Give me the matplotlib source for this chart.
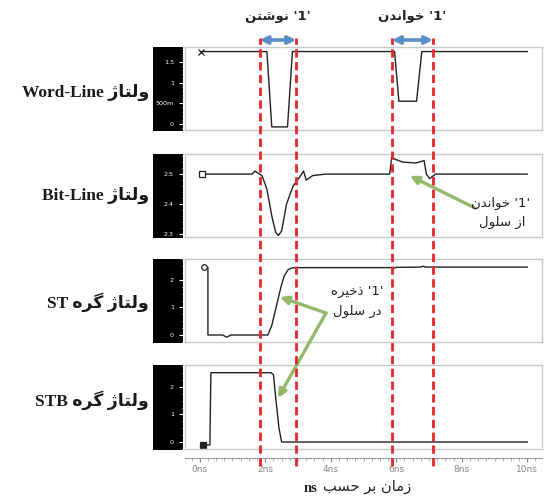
import matplotlib
matplotlib.use("Agg")
import matplotlib.pyplot as plt
from matplotlib.ticker import MultipleLocator

W, H = 546, 499

# ---- waveform data (time in ns, voltage in V) ----
wl_t = [0.05, 2.05, 2.2, 2.68, 2.83, 5.95, 6.08, 6.62, 6.78, 10.0]
wl_v = [1.75, 1.75, -0.07, -0.07, 1.75, 1.75, 0.55, 0.55, 1.75, 1.75]

bl_t = [0.08, 1.6, 1.68, 1.78, 1.9, 2.05, 2.2, 2.32, 2.4, 2.5, 2.65, 2.85, 3.05,
        3.17, 3.25, 3.45, 3.85, 5.8, 5.86, 5.95, 6.2, 6.6, 6.85, 6.92, 7.02,
        7.2, 10.0]
bl_v = [2.5, 2.5, 2.51, 2.503, 2.495, 2.45, 2.36, 2.305, 2.295, 2.31, 2.4, 2.46,
        2.49, 2.51, 2.48, 2.495, 2.5, 2.5, 2.558, 2.55, 2.54, 2.537, 2.545,
        2.5, 2.485, 2.5, 2.5]

st_t = [0.13, 0.25, 0.25, 0.7, 0.82, 0.95, 2.08, 2.2, 2.35, 2.48, 2.58, 2.7,
        2.82, 3.0, 5.85, 5.92, 6.0, 6.75, 6.82, 6.9, 10.0]
st_v = [2.46, 2.46, 0.0, 0.0, -0.08, 0.0, 0.0, 0.35, 1.1, 1.75, 2.15, 2.38,
        2.44, 2.45, 2.45, 2.43, 2.46, 2.47, 2.5, 2.47, 2.47]

stb_t = [0.1, 0.31, 0.34, 2.17, 2.25, 2.32, 2.42, 2.5, 10.0]
stb_v = [-0.11, -0.11, 2.52, 2.52, 2.45, 1.6, 0.5, 0.0, 0.0]

wl_ticks = [0, 0.5, 1, 1.5]
wl_labels = ["0", "500m", "1", "1.5"]
bl_ticks = [2.3, 2.4, 2.5]
bl_labels = ["2.3", "2.4", "2.5"]
node_ticks = [0, 1, 2]
node_labels = ["0", "1", "2"]

time_ticks = [0, 2, 4, 6, 8, 10]
time_labels = ["0ns", "2ns", "4ns", "6ns", "8ns", "10ns"]
cursor_t = [1.83, 2.94, 5.87, 7.12]

# ---- minimal Persian shaping (presentation forms, visual order) ----
FORMS = {
    "ا": "\uFE8D\uFE8E", "د": "\uFEA9\uFEAA", "ذ": "\uFEAB\uFEAC",
    "ر": "\uFEAD\uFEAE", "ز": "\uFEAF\uFEB0", "ژ": "\uFB8A\uFB8B",
    "و": "\uFEED\uFEEE",
    "ب": "\uFE8F\uFE90\uFE91\uFE92", "ت": "\uFE95\uFE96\uFE97\uFE98",
    "ح": "\uFEA1\uFEA2\uFEA3\uFEA4", "خ": "\uFEA5\uFEA6\uFEA7\uFEA8",
    "س": "\uFEB1\uFEB2\uFEB3\uFEB4", "ش": "\uFEB5\uFEB6\uFEB7\uFEB8",
    "ل": "\uFEDD\uFEDE\uFEDF\uFEE0", "م": "\uFEE1\uFEE2\uFEE3\uFEE4",
    "ن": "\uFEE5\uFEE6\uFEE7\uFEE8", "ه": "\uFEE9\uFEEA\uFEEB\uFEEC",
    "ی": "\uFBFC\uFBFD\uFBFE\uFBFF", "گ": "\uFB92\uFB93\uFB94\uFB95",
}


def fa(s):
    out = []
    for i, c in enumerate(s):
        f = FORMS.get(c)
        if f is None:
            out.append(c)
            continue
        prev = s[i - 1] if i > 0 else ""
        nxt = s[i + 1] if i + 1 < len(s) else ""
        jp = prev in FORMS and len(FORMS[prev]) == 4
        jn = len(f) == 4 and nxt in FORMS
        if jp and jn:
            out.append(f[3])
        elif jp:
            out.append(f[1])
        elif jn:
            out.append(f[2])
        else:
            out.append(f[0])
    return "".join(reversed(out))


plt.rcParams["font.family"] = ["DejaVu Sans"]
fig = plt.figure(figsize=(W / 100, H / 100), dpi=100)
fig.patch.set_facecolor("white")

X0, X1 = 185, 542
XLIM = (-0.45, 10.45)


def px_axes(x0, y0, x1, y1, **kw):
    return fig.add_axes([x0 / W, 1 - y1 / H, (x1 - x0) / W, (y1 - y0) / H], **kw)


panels = [
    (47, 130, wl_t, wl_v, (-0.145, 1.86), wl_ticks, wl_labels, 0.1, "x", "none",
     "Word-Line " + fa("ولتاژ"), 92),
    (154, 237, bl_t, bl_v, (2.29, 2.567), bl_ticks, bl_labels, 0.02, "s", "white",
     "Bit-Line " + fa("ولتاژ"), 195),
    (259, 342, st_t, st_v, (-0.255, 2.764), node_ticks, node_labels, 0.25, "o", "white",
     "ST " + fa("ولتاژ گره"), 302),
    (365, 449, stb_t, stb_v, (-0.255, 2.8), node_ticks, node_labels, 0.25, "s", "#222222",
     "STB " + fa("ولتاژ گره"), 400),
]

axes = []
for (y0, y1, t, v, ylim, ticks, labels, minor, mk, mfc, label, ly) in panels:
    strip = px_axes(153, y0, 183, y1 + 1)
    strip.set_facecolor("black")
    strip.set_xticks([])
    strip.set_yticks([])
    for s in strip.spines.values():
        s.set_visible(False)

    ax = px_axes(X0, y0, X1, y1)
    ax.plot(t, v, color="#222222", lw=1.0, marker=mk, markevery=[0],
            markersize=4, markerfacecolor=mfc, markeredgecolor="#222222",
            markeredgewidth=0.9)
    ax.set_xlim(*XLIM)
    ax.set_ylim(*ylim)
    ax.set_xticks([])
    ax.set_yticks(ticks, labels)
    ax.yaxis.set_minor_locator(MultipleLocator(minor))
    ax.tick_params(axis="y", which="major", colors="white", labelsize=4.6,
                   length=4, width=0.8, pad=4)
    ax.tick_params(axis="y", which="minor", colors="white", length=2.5, width=0.6)
    for s in ax.spines.values():
        s.set_color("#c8c8c8")
        s.set_linewidth(1.0)
    fig.text(149 / W, 1 - ly / H, label, ha="right", va="center", fontsize=12.5,
             fontweight="bold", family=["Liberation Serif", "DejaVu Sans"],
             color="#1a1a1a")
    axes.append(ax)

# time axis under the last panel
tax = px_axes(X0, 457, X1, 458)
tax.set_xlim(*XLIM)
tax.set_yticks([])
for name in ("top", "left", "right"):
    tax.spines[name].set_visible(False)
tax.spines["bottom"].set_linestyle((0, (1, 1.5)))
tax.spines["bottom"].set_color("#888888")
tax.set_xticks(time_ticks, time_labels)
tax.xaxis.set_minor_locator(MultipleLocator(0.25))
tax.tick_params(axis="x", which="major", colors="#888888", labelsize=6.5,
                length=3, pad=2)
tax.tick_params(axis="x", which="minor", colors="#aaaaaa", length=2)
tax.patch.set_alpha(0)

fig.text(318 / W, 1 - 488 / H, "ns", ha="right", va="center", fontsize=10.5,
         fontweight="bold", family=["Liberation Serif"], color="#222222")
fig.text(323 / W, 1 - 487 / H, fa("زمان بر حسب"), ha="left", va="center",
         fontsize=10.5, color="#222222")

# overlay: cursors, phase arrows, annotations (pixel y, time x)
ov = px_axes(X0, 0, X1, H)
ov.set_xlim(*XLIM)
ov.set_ylim(H, 0)
ov.axis("off")
ov.patch.set_alpha(0)
ov.vlines(cursor_t, 466, 38, colors="#e5262b", lw=2.0, linestyles=(0, (3, 1.6)))

for a, b, txt in [(cursor_t[0], cursor_t[1], fa("نوشتن") + " '1'"),
                  (cursor_t[2], cursor_t[3], fa("خواندن") + " '1'")]:
    ov.annotate("", xy=(a, 40), xytext=(b, 40),
                arrowprops=dict(arrowstyle="<|-|>", color="#5b8ec6", lw=2.6,
                                mutation_scale=11, shrinkA=0, shrinkB=0))
    ov.text((a + b) / 2, 16, txt, ha="center", va="center", fontsize=9.5,
            fontweight="bold", color="#222222")

green = "#93b86a"
ax_bl, ax_st, ax_stb = axes[1], axes[2], axes[3]
ax_bl.annotate("", xy=(6.42, 2.494), xycoords="data",
               xytext=(475 / W, 1 - 208 / H), textcoords="figure fraction",
               arrowprops=dict(arrowstyle="-|>", color=green, lw=2.4,
                               mutation_scale=12, shrinkA=0, shrinkB=0))
ax_st.annotate("", xy=(2.45, 1.38), xycoords="data",
               xytext=(326 / W, 1 - 313 / H), textcoords="figure fraction",
               arrowprops=dict(arrowstyle="-|>", color=green, lw=2.4,
                               mutation_scale=12, shrinkA=0, shrinkB=0))
ax_stb.annotate("", xy=(2.39, 1.6), xycoords="data",
                xytext=(326 / W, 1 - 313 / H), textcoords="figure fraction",
                arrowprops=dict(arrowstyle="-|>", color=green, lw=2.4,
                                mutation_scale=12, shrinkA=0, shrinkB=0))

fig.text(501 / W, 1 - 203 / H, fa("خواندن") + " '1'", ha="center", va="center",
         fontsize=9.5, color="#222222")
fig.text(502 / W, 1 - 222 / H, fa("از سلول"), ha="center", va="center",
         fontsize=9.5, color="#222222")
fig.text(357 / W, 1 - 292 / H, fa("ذخیره") + " '1'", ha="center", va="center",
         fontsize=9.5, color="#222222")
fig.text(357 / W, 1 - 311 / H, fa("در سلول"), ha="center", va="center",
         fontsize=9.5, color="#222222")

fig.savefig("out.png", dpi=100)
